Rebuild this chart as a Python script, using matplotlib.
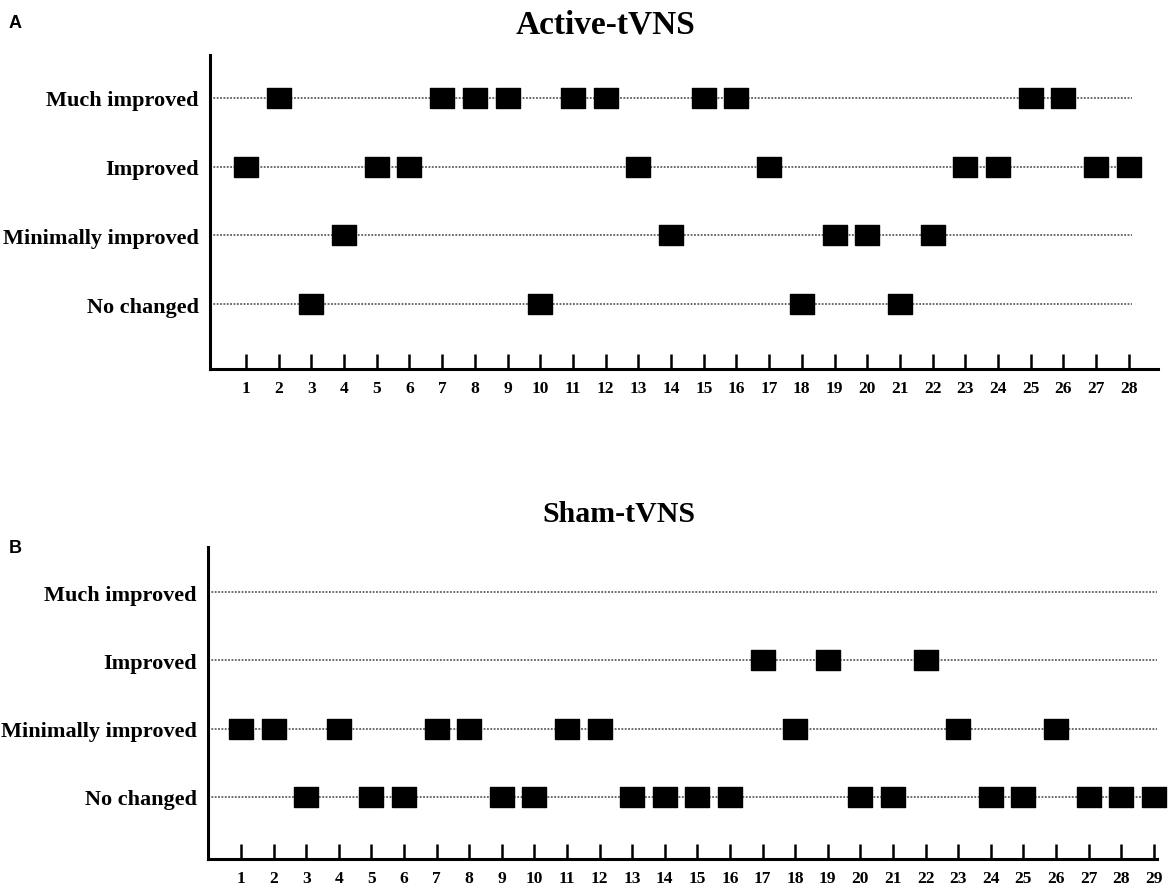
import numpy as np
import matplotlib
matplotlib.use("Agg")
import matplotlib.pyplot as plt

categories = ["No changed", "Minimally improved", "Improved", "Much improved"]

# Active-tVNS: patient numbers in each response category
active_n = 28
active_much = [2, 7, 8, 9, 11, 12, 15, 16, 25, 26]
active_improved = [1, 5, 6, 13, 17, 23, 24, 27, 28]
active_minimal = [4, 14, 19, 20, 22]
active_none = [3, 10, 18, 21]

# Sham-tVNS
sham_n = 29
sham_much = []
sham_improved = [17, 19, 22]
sham_minimal = [1, 2, 4, 7, 8, 11, 12, 18, 23, 26]
sham_none = [3, 5, 6, 9, 10, 13, 14, 15, 16, 20, 21, 24, 25, 27, 28, 29]

W, H = 1170, 895
serif = "Liberation Serif"
rect = [(-1.15, -1), (1.15, -1), (1.15, 1), (-1.15, 1), (-1.15, -1)]


def px_box(left, right, bottom, top):
    return [left / W, 1 - bottom / H, (right - left) / W, (bottom - top) / H]


def panel(ax, groups, n, xlim, ylim, line_end):
    for level, pts in enumerate(groups, start=1):
        ax.hlines(level, xlim[0], line_end, colors="#444444", lw=1.1,
                  linestyles=(0, (1.2, 1.0)), zorder=1)
        if pts:
            ax.plot(pts, [level] * len(pts), ls="none", marker=rect, ms=16.8,
                    color="black", clip_on=False, zorder=3)
    ax.set_xlim(*xlim)
    ax.set_ylim(*ylim)
    ax.set_xticks(np.arange(1, n + 1))
    ax.set_xticklabels([str(i) for i in range(1, n + 1)], fontfamily=serif,
                       fontweight="bold", fontsize=12.5)
    ax.set_yticks([1, 2, 3, 4])
    ax.set_yticklabels(categories, fontfamily=serif, fontweight="bold",
                       fontsize=16)
    ax.tick_params(axis="x", direction="in", length=11, width=1.8, pad=8)
    ax.tick_params(axis="y", length=0, pad=8)
    for s in ["top", "right"]:
        ax.spines[s].set_visible(False)
    for s in ["left", "bottom"]:
        ax.spines[s].set_linewidth(2.2)
    ax.patch.set_alpha(0)


fig = plt.figure(figsize=(W / 100, H / 100), dpi=100)

ax1 = fig.add_axes(px_box(210, 1158, 370, 56))
panel(ax1, [active_none, active_minimal, active_improved, active_much],
      active_n, (-0.10, 28.89), (0.058, 4.62), 28.1)

ax2 = fig.add_axes(px_box(208, 1157, 860, 548))
panel(ax2, [sham_none, sham_minimal, sham_improved, sham_much],
      sham_n, (-0.01, 29.1), (0.092, 4.66), 29.1)

fig.text(606 / W, 1 - 33 / H, "Active-tVNS", ha="center", va="baseline",
         fontfamily=serif, fontweight="bold", fontsize=24)
fig.text(619 / W, 1 - 522 / H, "Sham-tVNS", ha="center", va="baseline",
         fontfamily=serif, fontweight="bold", fontsize=21.5)
fig.text(9 / W, 1 - 28 / H, "A", ha="left", va="baseline",
         fontfamily="Liberation Sans", fontweight="bold", fontsize=13)
fig.text(9 / W, 1 - 553 / H, "B", ha="left", va="baseline",
         fontfamily="Liberation Sans", fontweight="bold", fontsize=13)

fig.savefig("out.png", dpi=100, facecolor="white")
